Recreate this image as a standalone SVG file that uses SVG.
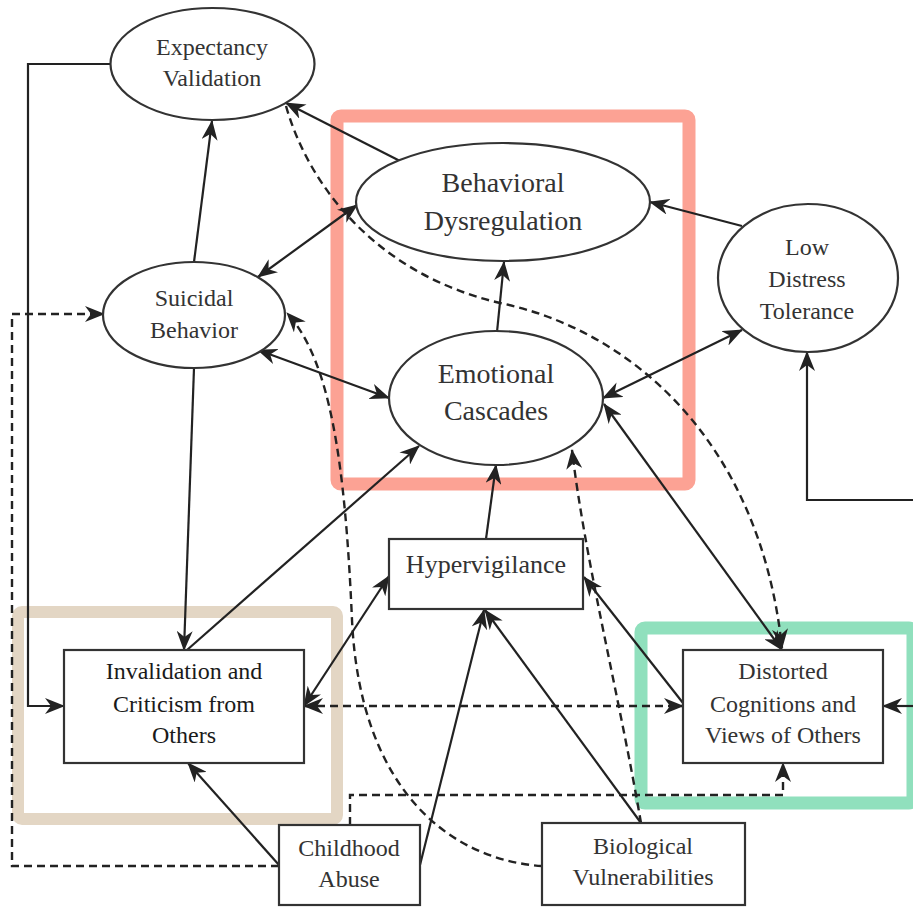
<svg xmlns="http://www.w3.org/2000/svg" width="913" height="907" viewBox="0 0 913 907">
<style>
.hl{fill:none;}
.node{fill:#fff;stroke:#333;stroke-width:2.2;}
.t{font-family:'Liberation Serif','DejaVu Serif',serif;font-size:24px;fill:#333;text-anchor:middle;}
.big{font-size:28px;}
.c{fill:none;stroke:#222;stroke-width:2.2;}
.d{stroke-dasharray:8 5;stroke-width:2.4;}
.e{marker-end:url(#ah);}
.b{marker-start:url(#ah);marker-end:url(#ah);}
</style>
<defs>
<marker id="ah" viewBox="0 0 20 16" refX="19" refY="8" markerWidth="20" markerHeight="16" markerUnits="userSpaceOnUse" orient="auto-start-reverse">
<path d="M0,0 L20,8 L0,16 L6,8 z" fill="#222"/>
</marker>
</defs>
<g id="highlights">
<rect class="hl" x="337" y="116" width="352" height="368" rx="4" stroke="#fca294" stroke-width="13"/>
<rect class="hl" x="18" y="612" width="319" height="207" rx="4" stroke="#e3d6c4" stroke-width="12"/>
<rect class="hl" x="641" y="628" width="272" height="175" rx="4" stroke="#90e0bd" stroke-width="13"/>
</g>
<g id="connectors">
<path class="c e" d="M111 64 H28 V706 H64"/>
<path class="c e" d="M194 262 L212 121"/>
<path class="c b" d="M357 205 L258 277"/>
<path class="c e" d="M400 161 L286 103"/>
<path class="c e" d="M742 226 L650 202"/>
<path class="c e" d="M497 332 L504 262"/>
<path class="c b" d="M258 350 L389 398"/>
<path class="c b" d="M603 398 L742 330"/>
<path class="c e" d="M913 500 H807 V352"/>
<path class="c e" d="M194 368 L184 650"/>
<path class="c e" d="M187 650 L419 446"/>
<path class="c b" d="M304 706 L389 576"/>
<path class="c e" d="M486 539 L496 465"/>
<path class="c b" d="M604 404 L782 650"/>
<path class="c e" d="M683 703 L584 577"/>
<path class="c e" d="M641 823 L485 610"/>
<path class="c e" d="M420 865 L484 610"/>
<path class="c e" d="M279 865 L188 763"/>
<path class="c e" d="M913 706 H883"/>
<path class="c d e" d="M279 866 H12 V314 H104"/>
<path class="c d b" d="M304 706 H683"/>
<path class="c d e" d="M350 825 V795 H783 V763"/>
<path class="c d e" d="M286 106 C310 190 380 275 500 303 C630 330 760 440 782 648"/>
<path class="c d e" d="M542 866 C450 860 360 790 352 620 C345 460 330 360 287 313"/>
<path class="c d e" d="M641 823 C620 700 585 560 572 450"/>
</g>
<g id="expectancy">
<ellipse class="node" cx="212.5" cy="64" rx="102" ry="56"/>
<text class="t" x="212" y="55">Expectancy</text>
<text class="t" x="212" y="86">Validation</text>
</g>
<g id="behavioral">
<ellipse class="node" cx="503" cy="202" rx="147" ry="59"/>
<text class="t big" x="503" y="192">Behavioral</text>
<text class="t big" x="503" y="230">Dysregulation</text>
</g>
<g id="lowdistress">
<ellipse class="node" cx="808" cy="278" rx="90" ry="74"/>
<text class="t" x="807" y="255">Low</text>
<text class="t" x="807" y="287">Distress</text>
<text class="t" x="807" y="319">Tolerance</text>
</g>
<g id="suicidal">
<ellipse class="node" cx="194" cy="315" rx="91" ry="53"/>
<text class="t" x="194" y="306">Suicidal</text>
<text class="t" x="194" y="338">Behavior</text>
</g>
<g id="emotional">
<ellipse class="node" cx="496" cy="398" rx="107" ry="67"/>
<text class="t big" x="496" y="383">Emotional</text>
<text class="t big" x="496" y="420">Cascades</text>
</g>
<g id="hypervigilance">
<rect class="node" x="389" y="539" width="194" height="70"/>
<text class="t" style="font-size:26px" x="486" y="573">Hypervigilance</text>
</g>
<g id="invalidation">
<rect class="node" x="64" y="650" width="240" height="113"/>
<text class="t" style="fill:#1a1a1a" x="184" y="679">Invalidation and</text>
<text class="t" style="fill:#1a1a1a" x="184" y="712">Criticism from</text>
<text class="t" style="fill:#1a1a1a" x="184" y="743">Others</text>
</g>
<g id="distorted">
<rect class="node" x="683" y="650" width="200" height="113"/>
<text class="t" x="783" y="679">Distorted</text>
<text class="t" x="783" y="712">Cognitions and</text>
<text class="t" x="783" y="743">Views of Others</text>
</g>
<g id="childhood">
<rect class="node" x="279" y="825" width="141" height="80"/>
<text class="t" x="349" y="856">Childhood</text>
<text class="t" x="349" y="887">Abuse</text>
</g>
<g id="biological">
<rect class="node" x="542" y="823" width="203" height="82"/>
<text class="t" x="643" y="854">Biological</text>
<text class="t" x="643" y="885">Vulnerabilities</text>
</g>
</svg>
